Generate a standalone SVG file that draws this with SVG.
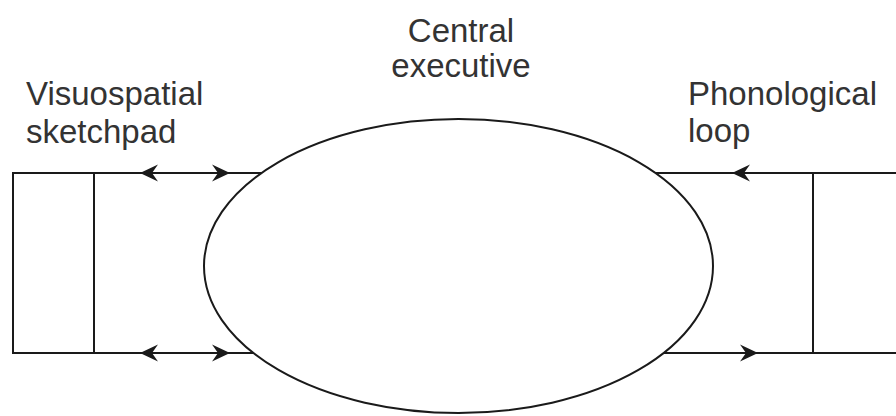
<svg xmlns="http://www.w3.org/2000/svg" xmlns:xlink="http://www.w3.org/1999/xlink" width="896" height="416" viewBox="0 0 896 416">
  <defs>
    <style>
      .ln { stroke: #1a1a1a; stroke-width: 2; fill: none; }
      .lbl { font-family: "Liberation Sans", Arial, Helvetica, sans-serif; font-size: 33px; fill: #333; }
      .ah { fill: #1a1a1a; }
    </style>
    <path id="arr" class="ah" d="M0,0 L-18,-8.5 L-12,0 L-18,8.5 Z"/>
  </defs>
  <rect width="896" height="416" fill="#fff"/>

  <g id="visuospatial-sketchpad">
    <rect class="ln" x="13" y="173" width="81" height="180"/>
    <text class="lbl" x="26" y="105">Visuospatial</text>
    <text class="lbl" x="26" y="143">sketchpad</text>
  </g>

  <g id="central-executive">
    <ellipse class="ln" cx="458.5" cy="266" rx="254.5" ry="147"/>
    <text class="lbl" x="461" y="42" text-anchor="middle">Central</text>
    <text class="lbl" x="461" y="77" text-anchor="middle">executive</text>
  </g>

  <g id="phonological-loop">
    <path class="ln" d="M813,173 V353"/>
    <text class="lbl" x="688" y="105">Phonological</text>
    <text class="lbl" x="688" y="142">loop</text>
  </g>

  <g id="connectors">
    <path class="ln" d="M94,173 H262"/>
    <path class="ln" d="M94,353 H253"/>
    <use href="#arr" xlink:href="#arr" transform="translate(140,173) rotate(180)"/>
    <use href="#arr" xlink:href="#arr" transform="translate(230,173)"/>
    <use href="#arr" xlink:href="#arr" transform="translate(140,353) rotate(180)"/>
    <use href="#arr" xlink:href="#arr" transform="translate(230,353)"/>

    <path class="ln" d="M655,173 H896"/>
    <path class="ln" d="M664,353 H896"/>
    <use href="#arr" xlink:href="#arr" transform="translate(732,173) rotate(180)"/>
    <use href="#arr" xlink:href="#arr" transform="translate(758,353)"/>
  </g>
</svg>
